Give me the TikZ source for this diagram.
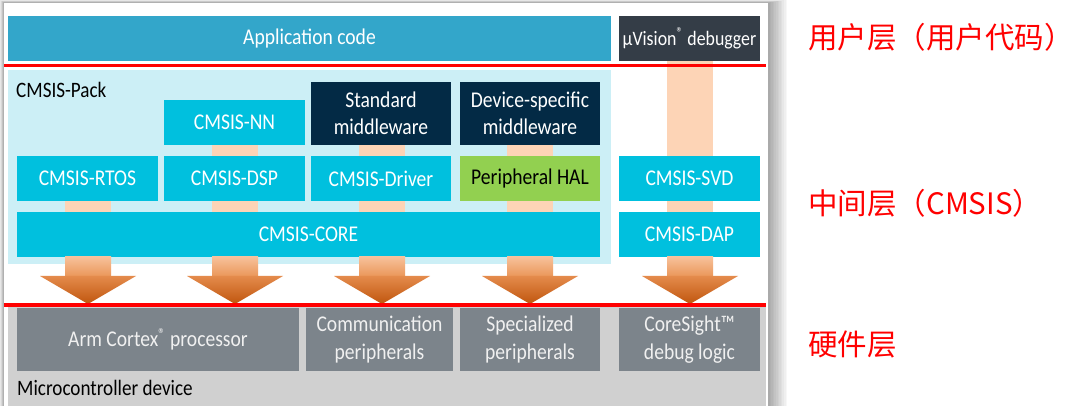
\documentclass[tikz,border=0pt]{standalone}
\usepackage{fontspec}
\setmainfont{Carlito}[FakeStretch=0.87]
\newfontfamily\cjk{Noto Sans CJK SC}
\definecolor{appblue}{HTML}{33A6CA}
\definecolor{uvis}{HTML}{343D47}
\definecolor{cmsis}{HTML}{00C0DE}
\definecolor{packbg}{HTML}{CCEFF6}
\definecolor{navy}{HTML}{032A45}
\definecolor{halgreen}{HTML}{92D050}
\definecolor{hwgray}{HTML}{7C848B}
\definecolor{panelgray}{HTML}{D0D0D0}
\definecolor{stemc}{HTML}{FDD4B6}
\definecolor{arrtop}{HTML}{F7C19A}
\definecolor{arrmid}{HTML}{EA9659}
\definecolor{arrhead}{HTML}{E48B4C}
\definecolor{arrtip}{HTML}{C0560E}
\definecolor{redline}{HTML}{FF0000}
\newcommand{\blk}[7]{%
  \node[#6, minimum width={(#4-#2)*1pt}, minimum height={(#5-#3)*1pt}] (#1) at ({(#2+#4)/2},{(#3+#5)/2}) {#7};}
\newcommand{\palestem}[3]{% center x, top y, bottom y
  \fill[stemc] ({#1-23},#2) rectangle ({#1+23},#3);}
\newcommand{\bigdownarrow}[1]{% center x
  \shade[top color=arrtop, bottom color=arrmid] ({#1-23},257) rectangle ({#1+23},276.5);
  \shade[top color=arrhead, bottom color=arrtip] ({#1-48},276) -- ({#1+48},276) -- (#1,304) -- cycle;}
\tikzset{
  base/.style={inner sep=0pt, outer sep=0pt, align=center,
    font=\fontsize{22.5}{27.5}\selectfont, text=white},
  appbox/.style={base, fill=appblue},
  uvisbox/.style={base, fill=uvis, font=\fontsize{20.5}{26}\selectfont},
  cmsisbox/.style={base, fill=cmsis},
  navybox/.style={base, fill=navy},
  halbox/.style={base, fill=halgreen, text=black},
  hwbox/.style={base, fill=hwgray, text=white!94!black},
  packbox/.style={inner sep=0pt, outer sep=0pt, fill=packbg},
  label/.style={inner sep=0pt, font=\fontsize{22}{27}\selectfont, text=black},
  cnlabel/.style={inner sep=0pt, anchor=west, font=\cjk\fontsize{29.5}{34}\selectfont, text=redline},
  redrule/.style={draw=redline, line width=3.2pt}
}
\begin{document}
\begin{tikzpicture}[x=1pt,y=-1pt]
\useasboundingbox (0,0) rectangle (1085,406);
\fill[white] (0,0) rectangle (1085,406);
% shadow around the panel
\foreach \i in {1,...,12}{
  \fill[black, opacity=0.03] ({4-0.35*\i},{3-0.25*\i}) rectangle ({768+1.6*\i},420);
}
\fill[white] (4,3) rectangle (768,406);
% pack background
\blk{pack}{8}{70}{611}{264}{packbox}{}
% pale stems behind blocks
\palestem{88}{156}{212}
\palestem{235}{100}{212}
\palestem{382}{82}{212}
\palestem{530}{82}{212}
\palestem{690}{61}{212}
% hardware panel
\fill[panelgray] (8,303) rectangle (766,406);
% top row
\blk{app}{8}{16}{611}{61}{appbox}{Application code}
\blk{uvis}{619}{16}{760}{61}{uvisbox}{µVision\textsuperscript{®} debugger}
% CMSIS
\node[label, anchor=base west] (packlbl) at (16,98) {CMSIS-Pack};
\blk{nn}{164}{100}{305}{145}{cmsisbox}{CMSIS-NN}
\blk{stdmw}{311}{82}{451}{145}{navybox}{Standard\\middleware}
\blk{devmw}{460}{82}{600}{145}{navybox}{Device-specific\\middleware}
\blk{rtos}{17}{156}{158}{201}{cmsisbox}{CMSIS-RTOS}
\blk{dsp}{164}{156}{305}{201}{cmsisbox}{CMSIS-DSP}
\blk{drv}{311}{156}{451}{201}{cmsisbox}{CMSIS-Driver}
\blk{hal}{460}{156}{600}{201}{halbox}{Peripheral HAL}
\blk{svd}{619}{156}{760}{201}{cmsisbox}{CMSIS-SVD}
\blk{core}{17}{212}{600}{257}{cmsisbox}{CMSIS-CORE}
\blk{dap}{619}{212}{760}{257}{cmsisbox}{CMSIS-DAP}
% big arrows
\bigdownarrow{88}
\bigdownarrow{235}
\bigdownarrow{382}
\bigdownarrow{530}
\bigdownarrow{690}
% hardware
\blk{cortex}{17}{308}{299}{371}{hwbox}{Arm Cortex\textsuperscript{®} processor}
\blk{comm}{306}{308}{453}{371}{hwbox}{Communication\\peripherals}
\blk{spec}{460}{308}{600}{371}{hwbox}{Specialized\\peripherals}
\blk{cs}{619}{308}{760}{371}{hwbox}{CoreSight™\\debug logic}
\node[label, anchor=base west] (mcu) at (17,395) {Microcontroller device};
% red rules
\draw[redrule] (4,65.5) -- (766,65.5);
\draw[redrule] (4,305) -- (766,305);
% Chinese labels
\node[cnlabel] (l1) at (808,37) {用户层（用户代码）};
\node[cnlabel] (l2) at (808,203) {中间层（CMSIS）};
\node[cnlabel] (l3) at (808,344) {硬件层};
\end{tikzpicture}
\end{document}
